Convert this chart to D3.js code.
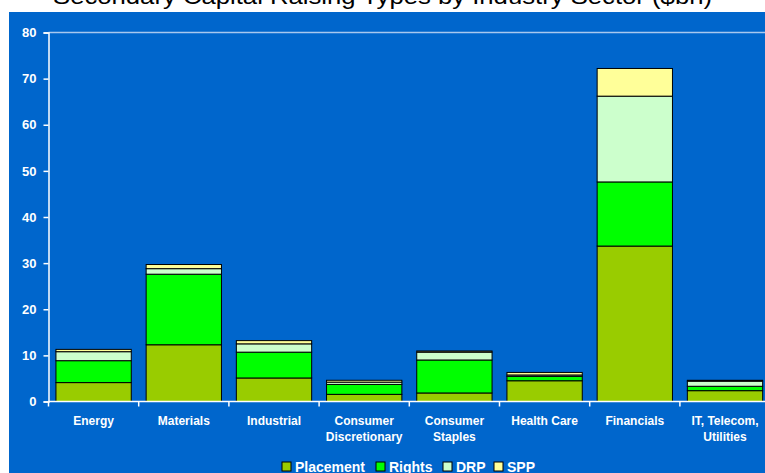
<!DOCTYPE html>
<html>
<head>
<meta charset="utf-8">
<script src="https://d3js.org/d3.v7.min.js"></script>
<style>
    body { margin: 0; background: #fff; }
    text { font-family: "Liberation Sans", Arial, sans-serif; }
</style>
</head>
<body>
<script>
var sectors = ["Energy", "Materials", "Industrial", "Consumer Discretionary", "Consumer Staples", "Health Care", "Financials", "IT, Telecom, Utilities"];
var sectorLines = [["Energy"], ["Materials"], ["Industrial"], ["Consumer", "Discretionary"], ["Consumer", "Staples"], ["Health Care"], ["Financials"], ["IT, Telecom,", "Utilities"]];
var types = ["Placement", "Rights", "DRP", "SPP"];
var placement = [4.1, 12.3, 5.1, 1.55, 1.85, 4.5, 33.7, 2.35];
var rights = [4.75, 15.3, 5.6, 2.15, 7.15, 0.95, 13.9, 0.95];
var drp = [1.95, 1.2, 1.8, 0.5, 1.7, 0.3, 18.6, 1.1];
var spp = [0.5, 0.9, 0.7, 0.4, 0.25, 0.55, 6.0, 0.2];
var yTicks = [0, 10, 20, 30, 40, 50, 60, 70, 80];
var colors = ["#99cc00", "#00ff00", "#ccffcc", "#ffff99"];

var width = 765, height = 473;

var svg = d3.select("body").append("svg")
    .attr("width", width)
    .attr("height", height);

// blue chart area
svg.append("rect")
    .attr("x", 9).attr("y", 12)
    .attr("width", width - 9).attr("height", height - 12)
    .attr("fill", "#0066cc");

svg.append("text")
    .attr("x", 53).attr("y", 4)
    .attr("font-size", 22)
    .attr("font-family", "Open Sans, DejaVu Sans, sans-serif")
    .attr("textLength", 659)
    .attr("lengthAdjust", "spacingAndGlyphs")
    .attr("fill", "#000")
    .text("Secondary Capital Raising Types by Industry Sector   ($bn)");

var x = d3.scaleBand()
    .domain(sectors)
    .range([48.5, 48.5 + 90.2 * 8])
    .paddingInner(0.165)
    .paddingOuter(0.0825);

var y = d3.scaleLinear()
    .domain([0, 80])
    .range([401.5, 32.5]);

var rows = sectors.map(function(s, i) {
    return { sector: s, Placement: placement[i], Rights: rights[i], DRP: drp[i], SPP: spp[i] };
});

var stack = d3.stack().keys(types)(rows);

// top border line of plot area
svg.append("line")
    .attr("x1", 48.5).attr("x2", width)
    .attr("y1", y(80)).attr("y2", y(80))
    .attr("stroke", "#a8c8ee").attr("stroke-width", 1.5);

svg.selectAll("g.layer")
    .data(stack)
    .enter().append("g")
    .attr("class", "layer")
    .attr("fill", function(d, i) { return colors[i]; })
    .selectAll("rect")
    .data(function(d) { return d; })
    .enter().append("rect")
    .attr("x", function(d) { return x(d.data.sector); })
    .attr("width", x.bandwidth())
    .attr("y", function(d) { return y(d[1]); })
    .attr("height", function(d) { return y(d[0]) - y(d[1]); })
    .attr("stroke", "#000")
    .attr("stroke-width", 1);

// y axis
var yAxis = svg.append("g")
    .attr("transform", "translate(48.5,0)")
    .call(d3.axisLeft(y).tickValues(yTicks).tickSize(5).tickPadding(7));
yAxis.selectAll("path, line").attr("stroke", "#fff").attr("stroke-width", 1.5);
yAxis.selectAll("text")
    .attr("fill", "#fff")
    .attr("font-size", 13)
    .attr("font-weight", "bold")
    .attr("font-family", "Liberation Sans, Arial, sans-serif");

// x axis baseline and ticks between categories
svg.append("line")
    .attr("x1", 48.5).attr("x2", width)
    .attr("y1", y(0)).attr("y2", y(0))
    .attr("stroke", "#fff").attr("stroke-width", 1.5);

svg.selectAll("line.xtick")
    .data(d3.range(sectors.length + 1))
    .enter().append("line")
    .attr("class", "xtick")
    .attr("x1", function(i) { return 48.5 + x.step() * i; })
    .attr("x2", function(i) { return 48.5 + x.step() * i; })
    .attr("y1", y(0)).attr("y2", y(0) + 5)
    .attr("stroke", "#fff").attr("stroke-width", 1.5);

var xLabels = svg.selectAll("text.xlab")
    .data(sectors)
    .enter().append("text")
    .attr("class", "xlab")
    .attr("text-anchor", "middle")
    .attr("fill", "#fff")
    .attr("font-size", 12)
    .attr("font-weight", "bold");

xLabels.selectAll("tspan")
    .data(function(d, i) {
        return sectorLines[i].map(function(t) { return { t: t, cx: x(d) + x.bandwidth() / 2 }; });
    })
    .enter().append("tspan")
    .attr("x", function(d) { return d.cx; })
    .attr("y", function(d, j) { return 425 + j * 16; })
    .text(function(d) { return d.t; });

// legend
var legendX = [282, 376, 443, 494];
var legend = svg.selectAll("g.legend")
    .data(types)
    .enter().append("g")
    .attr("class", "legend")
    .attr("transform", function(d, i) { return "translate(" + legendX[i] + ",462)"; });

legend.append("rect")
    .attr("width", 9).attr("height", 9)
    .attr("fill", function(d, i) { return colors[i]; })
    .attr("stroke", "#000").attr("stroke-width", 1);

legend.append("text")
    .attr("x", 13).attr("y", 10)
    .attr("fill", "#fff")
    .attr("font-size", 14)
    .attr("font-weight", "bold")
    .text(function(d) { return d; });
</script>
</body>
</html>
